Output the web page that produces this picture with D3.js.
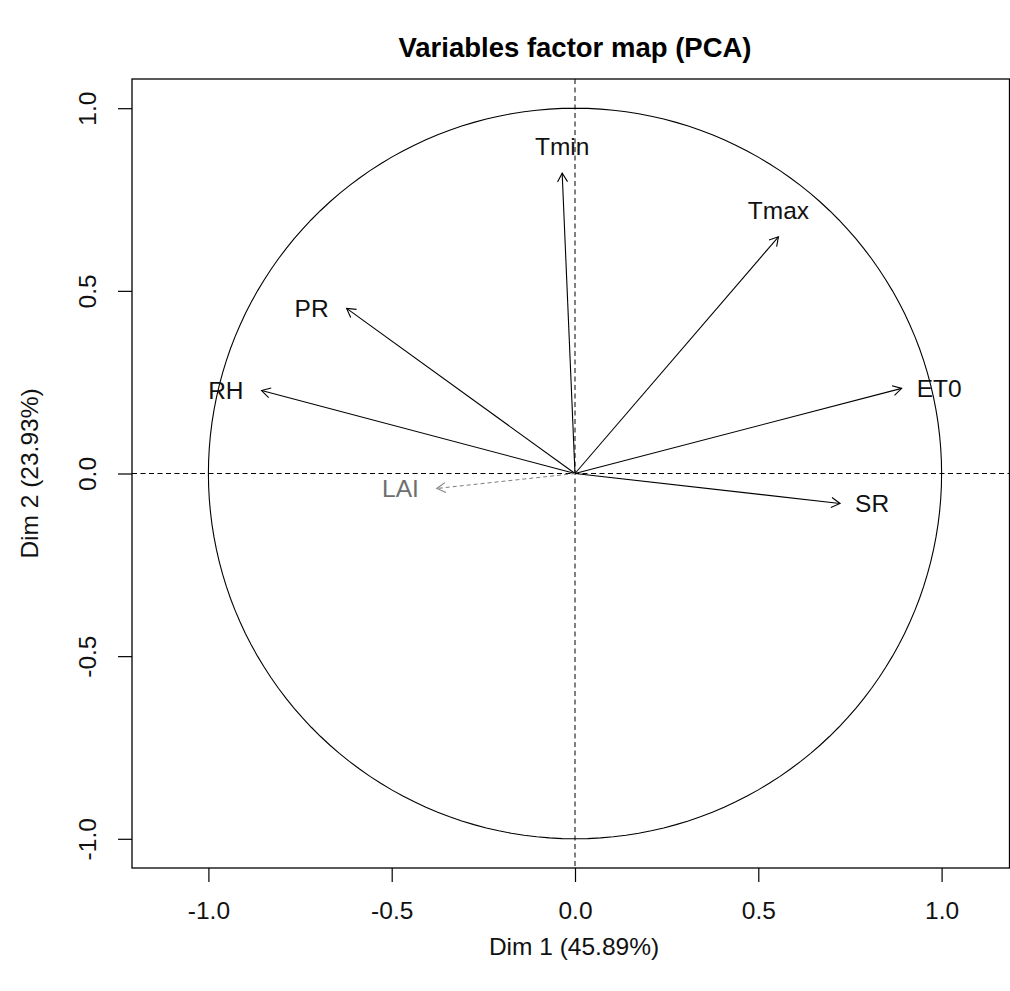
<!DOCTYPE html>
<html>
<head>
<meta charset="utf-8">
<script src="https://cdn.jsdelivr.net/npm/d3@7"></script>
<style>
  html, body { margin: 0; padding: 0; background: #fff; }
  svg { display: block; font-family: "Liberation Sans", Arial, sans-serif; }
</style>
</head>
<body>
<svg id="chart" width="1010" height="991"></svg>
<script>
// Variable coordinates on the first two principal dimensions
const variables = ["Tmin", "Tmax", "PR", "RH", "ET0", "SR", "LAI"];
const dim1 = [-0.035, 0.555, -0.623, -0.855, 0.891, 0.723, -0.377];
const dim2 = [0.822, 0.648, 0.452, 0.227, 0.233, -0.082, -0.041];
// Label placement around the arrow tip: 3 = above, 2 = left, 4 = right
const labelPos = [3, 3, 2, 2, 4, 4, 2];
// Supplementary / weakly represented variables are drawn dashed in grey
const supplementary = [false, false, false, false, false, false, true];

const tickValues = [-1.0, -0.5, 0.0, 0.5, 1.0];
const title = "Variables factor map (PCA)";
const xLabel = "Dim 1 (45.89%)";
const yLabel = "Dim 2 (23.93%)";

const FONT = "'Liberation Sans', Arial, sans-serif";
const textSize = 24.5;

const svg = d3.select("#chart");

// Equal-aspect scales: unit circle maps to a circle
const x = d3.scaleLinear().domain([-1, 1]).range([208.4, 941.6]);
const y = d3.scaleLinear().domain([-1, 1]).range([838.8, 108.2]);

const box = { left: 132, top: 79, right: 1009.5, bottom: 868 };

// Title
svg.append("text")
  .attr("x", 575).attr("y", 57)
  .attr("text-anchor", "middle")
  .attr("font-size", 27.5)
  .attr("font-weight", "bold")
  .attr("fill", "#000")
  .text(title);

// Axes
const xAxis = d3.axisBottom(x).tickValues(tickValues)
  .tickFormat(d => d.toFixed(1)).tickSize(14).tickPadding(20);
const gx = svg.append("g").attr("transform", `translate(0,${box.bottom})`).call(xAxis);
gx.select(".domain").remove();
gx.selectAll("line").attr("stroke", "#000").attr("stroke-width", 1.2);
gx.selectAll("text").attr("font-size", textSize).attr("fill", "#111")
  .attr("font-family", FONT);

const yAxis = d3.axisLeft(y).tickValues(tickValues)
  .tickFormat(d => d.toFixed(1)).tickSize(14).tickPadding(0);
const gy = svg.append("g").attr("transform", `translate(${box.left},0)`).call(yAxis);
gy.select(".domain").remove();
gy.selectAll("line").attr("stroke", "#000").attr("stroke-width", 1.2);
gy.selectAll("text")
  .attr("font-size", textSize).attr("fill", "#111")
  .attr("font-family", FONT)
  .attr("text-anchor", "middle")
  .attr("x", null).attr("dy", null)
  .attr("transform", "translate(-45,0) rotate(-90)")
  .attr("dominant-baseline", "central");

// Axis titles
svg.append("text")
  .attr("x", 574).attr("y", 955)
  .attr("text-anchor", "middle")
  .attr("font-size", textSize).attr("fill", "#111")
  .text(xLabel);
svg.append("text")
  .attr("transform", `translate(29,${y(0)}) rotate(-90)`)
  .attr("text-anchor", "middle")
  .attr("dominant-baseline", "central")
  .attr("font-size", textSize).attr("fill", "#111")
  .text(yLabel);

// Plot frame
svg.append("rect")
  .attr("x", box.left).attr("y", box.top)
  .attr("width", box.right - box.left).attr("height", box.bottom - box.top)
  .attr("fill", "none").attr("stroke", "#000").attr("stroke-width", 1.3);

// Reference lines through the origin
svg.append("line")
  .attr("x1", x(0)).attr("x2", x(0)).attr("y1", box.top).attr("y2", box.bottom)
  .attr("stroke", "#000").attr("stroke-width", 1).attr("stroke-dasharray", "5,3.5");
svg.append("line")
  .attr("x1", box.left).attr("x2", box.right).attr("y1", y(0)).attr("y2", y(0))
  .attr("stroke", "#000").attr("stroke-width", 1).attr("stroke-dasharray", "5,3.5");

// Correlation circle
const circlePts = d3.range(0, 361, 2).map(a => [Math.cos(a * Math.PI / 180), Math.sin(a * Math.PI / 180)]);
svg.append("path")
  .attr("d", d3.line().x(d => x(d[0])).y(d => y(d[1]))(circlePts))
  .attr("fill", "none").attr("stroke", "#000").attr("stroke-width", 1.1);

// Arrows
const data = variables.map((name, i) => ({
  name, dx: dim1[i], dy: dim2[i], pos: labelPos[i], sup: supplementary[i]
}));

const arrows = svg.append("g");
data.forEach(d => {
  const col = d.sup ? "#808080" : "#000";
  const x0 = x(0), y0 = y(0), x1 = x(d.dx), y1 = y(d.dy);
  const g = arrows.append("g");
  g.append("line")
    .attr("x1", x0).attr("y1", y0).attr("x2", x1).attr("y2", y1)
    .attr("stroke", col).attr("stroke-width", 1.1)
    .attr("stroke-dasharray", d.sup ? "4,3" : null);
  const ang = Math.atan2(y1 - y0, x1 - x0);
  const len = 10, spread = Math.PI / 6;
  const head = [
    [x1 - len * Math.cos(ang - spread), y1 - len * Math.sin(ang - spread)],
    [x1, y1],
    [x1 - len * Math.cos(ang + spread), y1 - len * Math.sin(ang + spread)]
  ];
  g.append("path")
    .attr("d", d3.line()(head))
    .attr("fill", "none").attr("stroke", col).attr("stroke-width", 1.1);

  const t = g.append("text")
    .attr("font-size", textSize)
    .attr("fill", d.sup ? "#6e6e6e" : "#111")
    .text(d.name);
  if (d.pos === 3) {
    t.attr("x", x1).attr("y", y1 - 18).attr("text-anchor", "middle");
  } else if (d.pos === 2) {
    t.attr("x", x1 - 18).attr("y", y1).attr("text-anchor", "end").attr("dominant-baseline", "central");
  } else {
    t.attr("x", x1 + 15).attr("y", y1).attr("text-anchor", "start").attr("dominant-baseline", "central");
  }
});
</script>
</body>
</html>
